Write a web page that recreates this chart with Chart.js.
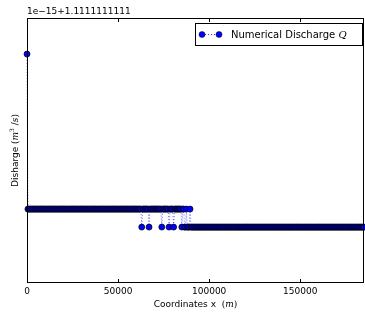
<!DOCTYPE html>
<html>
<head>
<meta charset="utf-8">
<script src="https://cdn.jsdelivr.net/npm/chart.js@4/dist/chart.umd.min.js"></script>
<style>
html,body{margin:0;padding:0;background:#fff;}
#wrap{width:365px;height:312px;}
</style>
</head>
<body>
<div id="wrap"><canvas id="c" width="365" height="312"></canvas></div>
<script>
// ── data (discharge shown as offset from 1.1111111111, in tiny float steps) ──
var xMax=185000;
var sampleStep=500;                 // spacing of the computational nodes (m)
var qHigh=9.6, qMid=1, qLow=0;      // the three levels seen in the plot
var midUntil=63000;                 // nodes before this sit on the middle level
var lowFrom=90000;                  // nodes from here on sit on the low level
var lowNodes=[63000,67000,74000,78000,80500,85000,86500,87000,88000,88500,89000];
var xTicks=[0,50000,100000,150000];
var yMin=-3.1, yMax=11.6;

var pts=[];
for(var x=0;x<=xMax;x+=sampleStep){
  var q;
  if(x===0)q=qHigh;
  else if(x<midUntil)q=qMid;
  else if(x>=lowFrom)q=qLow;
  else q=lowNodes.indexOf(x)!==-1?qLow:qMid;
  pts.push({x:x,y:q});
}

var FONT="DejaVu Sans";

function rich(ctx,parts,x,y){
  var w=0;
  parts.forEach(function(p){ctx.font=p.f;w+=ctx.measureText(p.t).width;});
  var cx=x-w/2;
  parts.forEach(function(p){
    ctx.font=p.f;
    ctx.fillText(p.t,cx,y+(p.dy||0));
    cx+=ctx.measureText(p.t).width;
  });
}

var deco={
  id:"deco",
  afterDraw:function(ch){
    var ctx=ch.ctx,a=ch.chartArea,xs=ch.scales.x;
    ctx.save();
    // frame
    ctx.strokeStyle="#000";ctx.lineWidth=1;
    ctx.strokeRect(a.left+0.5,a.top+0.5,a.right-a.left-1,a.bottom-a.top-1);
    // inward ticks top and bottom
    xTicks.forEach(function(v){
      var px=Math.round(xs.getPixelForValue(v))+0.5;
      ctx.beginPath();
      ctx.moveTo(px,a.top);ctx.lineTo(px,a.top+4);
      ctx.moveTo(px,a.bottom);ctx.lineTo(px,a.bottom-4);
      ctx.stroke();
    });
    ctx.fillStyle="#000";
    ctx.textBaseline="alphabetic";
    // offset label
    ctx.font="9px "+FONT;
    ctx.textAlign="left";
    ctx.fillText("1e\u221215+1.1111111111",a.left,14);
    // x title
    rich(ctx,[
      {t:"Coordinates x  ",f:"9px "+FONT},
      {t:"(",f:"9px 'DejaVu Serif'"},
      {t:"m",f:"italic 9px 'DejaVu Serif'"},
      {t:")",f:"9px 'DejaVu Serif'"}
    ],(a.left+a.right)/2,307);
    // y title
    ctx.save();
    ctx.translate(18,(a.top+a.bottom)/2);
    ctx.rotate(-Math.PI/2);
    rich(ctx,[
      {t:"Disharge ",f:"9px "+FONT},
      {t:"(",f:"9px 'DejaVu Serif'"},
      {t:"m",f:"italic 9px 'DejaVu Serif'"},
      {t:"3",f:"6px 'DejaVu Serif'",dy:-4},
      {t:" /",f:"9px 'DejaVu Serif'"},
      {t:"s",f:"italic 9px 'DejaVu Serif'"},
      {t:")",f:"9px 'DejaVu Serif'"}
    ],0,0);
    ctx.restore();
    // legend
    var lx=195.5,ly=23.5,lw=167,lh=22;
    ctx.fillStyle="#fff";ctx.fillRect(lx,ly,lw,lh);
    ctx.strokeStyle="#000";ctx.lineWidth=1;ctx.strokeRect(lx,ly,lw,lh);
    ctx.strokeStyle="rgba(0,0,255,0.8)";ctx.setLineDash([1,2]);
    ctx.beginPath();ctx.moveTo(202,34.5);ctx.lineTo(219,34.5);ctx.stroke();
    ctx.setLineDash([]);
    [202,219].forEach(function(mx){
      ctx.beginPath();ctx.arc(mx,34.5,3,0,Math.PI*2);
      ctx.fillStyle="#0000ff";ctx.fill();
      ctx.lineWidth=0.5;ctx.strokeStyle="#000";ctx.stroke();
    });
    ctx.fillStyle="#000";ctx.textAlign="left";
    ctx.font="10px "+FONT;
    ctx.fillText("Numerical Discharge ",231,38);
    var tw=ctx.measureText("Numerical Discharge ").width;
    ctx.font="italic 10px 'DejaVu Serif'";
    ctx.fillText("Q",231+tw,38);
    ctx.restore();
  }
};

new Chart(document.getElementById("c"),{
  type:"scatter",
  data:{datasets:[{
    label:"Numerical Discharge Q",
    data:pts,
    showLine:true,
    borderColor:"rgba(0,0,255,0.75)",
    borderWidth:0.8,
    borderDash:[1,2],
    pointRadius:3,
    pointBackgroundColor:"#0000ff",
    pointBorderColor:"#000000",
    pointBorderWidth:0.7,
    clip:false
  }]},
  options:{
    responsive:false,
    animation:false,
    layout:{autoPadding:false,padding:{top:18,right:1,left:0,bottom:0}},
    plugins:{legend:{display:false},tooltip:{enabled:false},title:{display:false}},
    scales:{
      x:{
        type:"linear",min:0,max:xMax,
        grid:{display:false,drawTicks:false,tickLength:0},
        border:{display:false},
        afterBuildTicks:function(s){s.ticks=xTicks.map(function(v){return{value:v};});},
        afterFit:function(s){s.height=29;},
        ticks:{color:"#000",font:{family:FONT,size:9},padding:3,maxRotation:0,autoSkip:false,
          callback:function(v){return String(v);}}
      },
      y:{
        min:yMin,max:yMax,
        grid:{display:false},
        border:{display:false},
        ticks:{display:false},
        afterFit:function(s){s.width=27;}
      }
    }
  },
  plugins:[deco]
});
</script>
</body>
</html>
